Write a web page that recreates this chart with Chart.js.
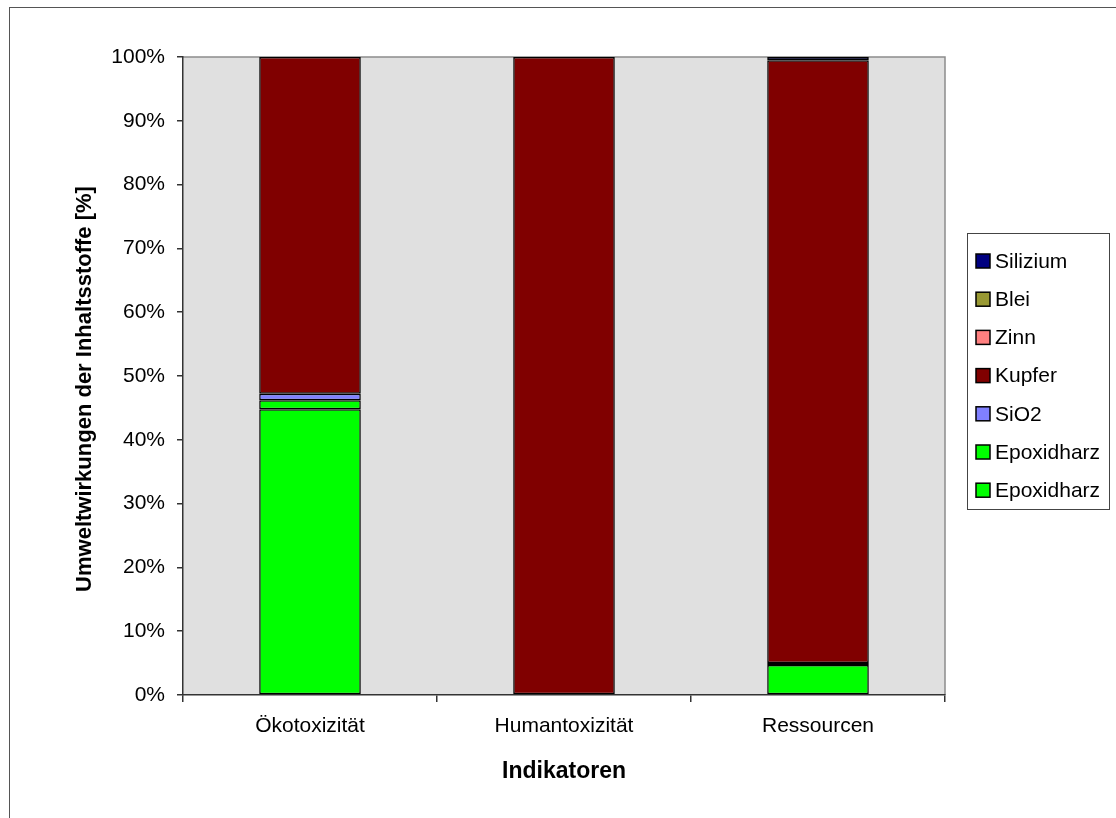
<!DOCTYPE html>
<html>
<head>
<meta charset="utf-8">
<script src="https://cdn.jsdelivr.net/npm/chart.js@4.4.0/dist/chart.umd.min.js"></script>
<style>
  html, body { margin: 0; padding: 0; background: #ffffff; }
  #wrap { width: 1116px; height: 818px; position: relative; }
</style>
</head>
<body>
<div id="wrap"><canvas id="chart" width="1116" height="818"></canvas></div>
<script>
// Indicator categories on the x axis
const categories = ['Ökotoxizität', 'Humantoxizität', 'Ressourcen'];

// Share of each substance in the environmental impact, in percent (stacked bottom to top)
const epoxidharzBasis = [44.8, 0, 4.7];
const epoxidharz = [1.4, 0, 0.3];
const sio2 = [1.0, 0, 0];
const kupfer = [52.8, 100, 94.5];
const zinn = [0, 0, 0];
const blei = [0, 0, 0];
const silizium = [0, 0, 0.5];

// Y axis tick values and their labels
const yTicks = [0, 10, 20, 30, 40, 50, 60, 70, 80, 90, 100];
const yTickLabels = ['0%', '10%', '20%', '30%', '40%', '50%', '60%', '70%', '80%', '90%', '100%'];

const yTitle = 'Umweltwirkungen der Inhaltsstoffe [%]';

const FONT = '"Liberation Sans", Arial, sans-serif';

function series(label, data, color) {
  return {
    label: label,
    data: data,
    backgroundColor: color,
    borderColor: '#000000',
    borderWidth: 1.5,
    borderSkipped: false,
    barPercentage: 0.4,
    categoryPercentage: 1.0,
    stack: 'anteil'
  };
}

const datasets = [
  series('Epoxidharz', epoxidharzBasis, '#00FF00'),
  series('Epoxidharz', epoxidharz, '#00FF00'),
  series('SiO2', sio2, '#8080FF'),
  series('Kupfer', kupfer, '#800000'),
  series('Zinn', zinn, '#FF8080'),
  series('Blei', blei, '#999933'),
  series('Silizium', silizium, '#000080')
];

// Grey plot background, plot frame and the outer chart frame
const framePlugin = {
  id: 'frame',
  beforeDraw(chart) {
    const { ctx, chartArea: a } = chart;
    ctx.save();
    ctx.fillStyle = '#ffffff';
    ctx.fillRect(0, 0, chart.width, chart.height);
    ctx.strokeStyle = '#555555';
    ctx.lineWidth = 1;
    ctx.strokeRect(9.5, 7.5, chart.width + 20, chart.height + 20);
    ctx.fillStyle = '#E0E0E0';
    ctx.fillRect(a.left, a.top, a.right - a.left, a.bottom - a.top);
    ctx.strokeStyle = '#8C8C8C';
    ctx.lineWidth = 1.5;
    ctx.beginPath();
    ctx.moveTo(a.left, a.top);
    ctx.lineTo(a.right, a.top);
    ctx.lineTo(a.right, a.bottom);
    ctx.stroke();
    ctx.restore();
  },
  afterDraw(chart) {
    // Rotated value axis title, sitting a little below the plot's centre line
    const { ctx, chartArea: a } = chart;
    ctx.save();
    ctx.translate(85, (a.top + a.bottom) / 2 + 13);
    ctx.rotate(-Math.PI / 2);
    ctx.font = 'bold 22px ' + FONT;
    ctx.fillStyle = '#000000';
    ctx.textAlign = 'center';
    ctx.textBaseline = 'middle';
    ctx.fillText(yTitle, 0, 0);
    ctx.restore();
  }
};

// Legend box on the right, listing the stack from top to bottom
const legendPlugin = {
  id: 'sideLegend',
  afterDraw(chart) {
    const { ctx } = chart;
    const items = chart.data.datasets.slice().reverse();
    const boxX = 967, boxY = 233, boxW = 142, boxH = 276;
    const firstY = 261, step = 38.2;
    ctx.save();
    ctx.fillStyle = '#ffffff';
    ctx.fillRect(boxX, boxY, boxW, boxH);
    ctx.strokeStyle = '#444444';
    ctx.lineWidth = 1;
    ctx.strokeRect(boxX + 0.5, boxY + 0.5, boxW, boxH);
    ctx.font = '21px ' + FONT;
    ctx.textBaseline = 'middle';
    ctx.textAlign = 'left';
    items.forEach((ds, i) => {
      const y = firstY + i * step;
      ctx.fillStyle = ds.backgroundColor;
      ctx.fillRect(976, y - 7, 14, 14);
      ctx.strokeStyle = '#000000';
      ctx.lineWidth = 1.5;
      ctx.strokeRect(976, y - 7, 14, 14);
      ctx.fillStyle = '#000000';
      ctx.fillText(ds.label, 995, y + 1);
    });
    ctx.restore();
  }
};

new Chart(document.getElementById('chart'), {
  type: 'bar',
  data: { labels: categories, datasets: datasets },
  options: {
    responsive: false,
    animation: false,
    devicePixelRatio: 1,
    layout: { padding: { top: 57, right: 171, left: 0, bottom: 0 } },
    plugins: {
      legend: { display: false },
      tooltip: { enabled: false }
    },
    scales: {
      x: {
        stacked: true,
        grid: {
          display: true,
          offset: true,
          drawOnChartArea: false,
          drawTicks: true,
          tickLength: 7,
          color: '#333333',
          lineWidth: 1.5
        },
        border: { display: true, color: '#333333', width: 1.5 },
        ticks: {
          color: '#000000',
          font: { family: FONT, size: 21 },
          padding: 12,
          maxRotation: 0
        },
        title: {
          display: true,
          text: 'Indikatoren',
          color: '#000000',
          font: { family: FONT, size: 23, weight: 'bold' },
          padding: { top: 0, bottom: 33 }
        },
        afterFit(scale) { scale.height = 123; }
      },
      y: {
        stacked: true,
        min: 0,
        max: 100,
        afterBuildTicks(scale) { scale.ticks = yTicks.map(v => ({ value: v })); },
        grid: {
          display: true,
          drawOnChartArea: false,
          drawTicks: true,
          tickLength: 6,
          color: '#333333',
          lineWidth: 1.5
        },
        border: { display: true, color: '#333333', width: 1.5 },
        ticks: {
          color: '#000000',
          font: { family: FONT, size: 21 },
          padding: 12,
          callback: (v) => yTickLabels[yTicks.indexOf(v)]
        },
        title: { display: false },
        afterFit(scale) { scale.width = 183; }
      }
    }
  },
  plugins: [framePlugin, legendPlugin]
});
</script>
</body>
</html>
